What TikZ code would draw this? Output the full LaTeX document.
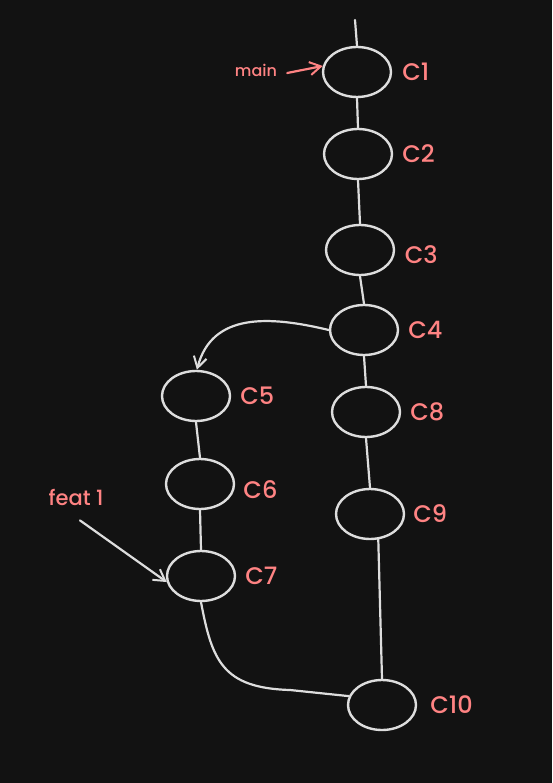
\documentclass[tikz,border=0pt]{standalone}
\usepackage{fontspec}
\setmainfont{Poppins}[UprightFont=* Medium]
\usetikzlibrary{arrows.meta, positioning, shapes.geometric, calc}
\definecolor{bgdark}{HTML}{121212}
\definecolor{strk}{HTML}{DDDDDD}
\definecolor{salmon}{HTML}{FF8383}

\begin{document}
\begin{tikzpicture}[x=1pt,y=-1pt,
  commit/.style={ellipse,draw=strk,line width=2.4pt,minimum width=68pt,minimum height=50pt,inner sep=0pt},
  lbl/.style={text=salmon,font=\fontsize{24}{26}\selectfont,inner sep=0pt},
  link/.style={draw=strk,line width=2.2pt,line cap=round},
  tip/.style={-{Straight Barb[length=11pt,width=13pt,line width=2pt]}}]
\fill[bgdark] (0,0) rectangle (552,783);
\useasboundingbox (0,0) rectangle (552,783);
% Commits on main
\node[commit] (c1) at (357,72) {};
\node[commit] (c2) at (358,154) {};
\node[commit] (c3) at (360,250) {};
\node[commit] (c4) at (364,330) {};
\node[commit] (c8) at (366,412) {};
\node[commit] (c9) at (370,514) {};
\node[commit] (c10) at (382,705) {};
% Commits on feature branch
\node[commit] (c5) at (196,396) {};
\node[commit] (c6) at (200,484) {};
\node[commit] (c7) at (201,576) {};
% Labels
\node[lbl,right=10pt of c1] (l1) {C1};
\node[lbl,right=9pt of c2] (l2) {C2};
\node[lbl,right=10pt of c3.-8] (l3) {C3};
\node[lbl,right=9pt of c4] (l4) {C4};
\node[lbl,right=9pt of c5] (l5) {C5};
\node[lbl,right=9pt of c6.-10] (l6) {C6};
\node[lbl,right=9pt of c7] (l7) {C7};
\node[lbl,right=9pt of c8] (l8) {C8};
\node[lbl,right=8pt of c9] (l9) {C9};
\node[lbl,right=13pt of c10] (l10) {C10};
\node[text=salmon,font=\fontsize{16}{18}\selectfont,inner sep=0pt] (main) at (256,70) {main};
\node[text=salmon,font=\fontsize{21}{23}\selectfont,inner sep=0pt] (feat) at (76,497) {feat 1};
% History
\coordinate (top) at (355,20);
\draw[link] (top) -- (c1.north);
\draw[link] (c1.south) -- (c2.north);
\draw[link] (c2.south) -- (c3.north);
\draw[link] (c3.south) -- (c4.north);
\draw[link] (c4.south) -- (c8.north);
\draw[link] (c8.south) -- (c9.north);
\draw[link] (c9.-72) -- (c10.north);
\draw[link] (c5.south) -- (c6.north);
\draw[link] (c6.south) -- (c7.north);
\draw[link] (c7.south) .. controls (212,660) and (222,688) .. (290,690) -- (c10.165);
% Branch off and pointers
\draw[link,tip] (c4.west) .. controls (270,316) and (212,312) .. (c5.88);
\draw[link,tip,draw=salmon] (main.east) ++(10,3) -- (c1.170);
\draw[link,tip] ($(feat.south)+(4,15)$) -- (c7.190);
\end{tikzpicture}
\end{document}
